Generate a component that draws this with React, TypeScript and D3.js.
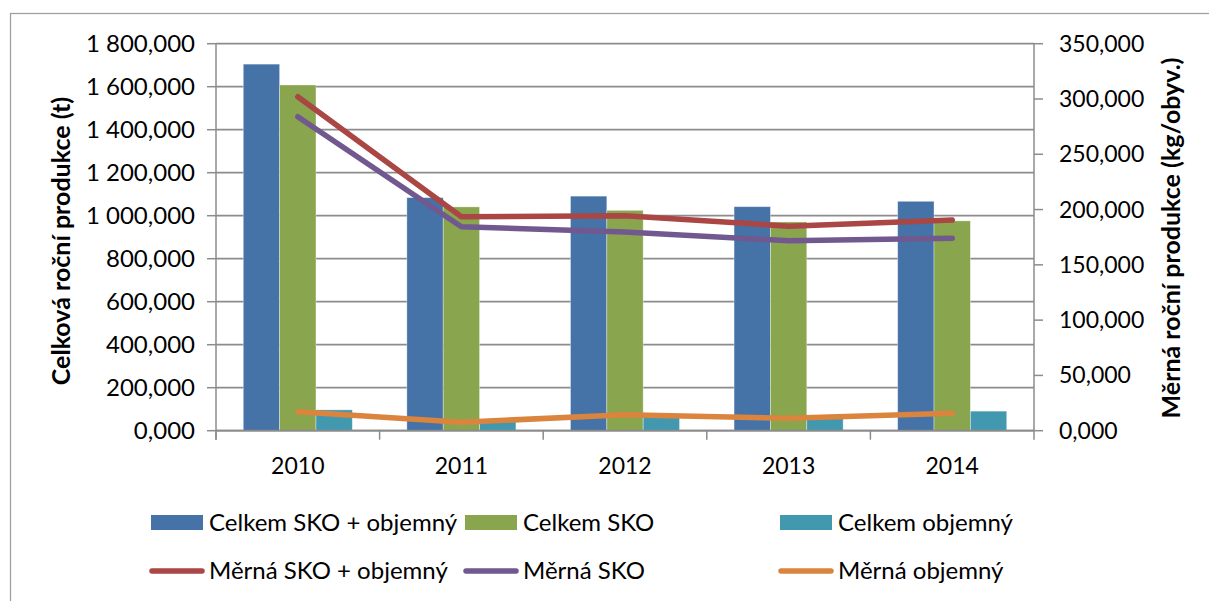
import React from "react";
import * as d3 from "d3";

const categories = ["2010", "2011", "2012", "2013", "2014"];
const celkemSkoObjemny = [1705, 1084, 1091, 1042, 1067];
const celkemSko = [1608, 1041, 1025, 971, 976];
const celkemObjemny = [97, 43, 66, 71, 91];
const mernaSkoObjemny = [302, 193.5, 194.5, 185, 190.5];
const mernaSko = [284, 184.5, 179.7, 171.8, 174];
const mernaObjemny = [17.2, 7.6, 14.5, 11.2, 15.7];
const leftTicks = [0, 200, 400, 600, 800, 1000, 1200, 1400, 1600, 1800];
const rightTicks = [0, 50, 100, 150, 200, 250, 300, 350];

const barSeries = [
  { name: "Celkem SKO + objemný", values: celkemSkoObjemny, color: "#4572A7" },
  { name: "Celkem SKO", values: celkemSko, color: "#89A54E" },
  { name: "Celkem objemný", values: celkemObjemny, color: "#4198AF" },
];
const lineSeries = [
  { name: "Měrná SKO + objemný", values: mernaSkoObjemny, color: "#AA4643" },
  { name: "Měrná SKO", values: mernaSko, color: "#71588F" },
  { name: "Měrná objemný", values: mernaObjemny, color: "#DB843D" },
];

const W = 1209;
const H = 601;
const FONT = "Lato, 'Open Sans', sans-serif";

function fmtLeft(v: number) {
  const s = d3.format(",.3f")(v);
  const [i, f] = s.split(".");
  return i.replace(/,/g, "\u00a0") + "," + f;
}
function fmtRight(v: number) {
  return d3.format(".3f")(v).replace(".", ",");
}

export default function App() {
  const x0 = 216, x1 = 1034, yTop = 43.7, yBot = 430.7;
  const x = d3.scaleBand<string>().domain(categories).range([x0, x1]).paddingInner(0).paddingOuter(0);
  const yL = d3.scaleLinear().domain([0, 1800]).range([yBot, yTop]);
  const yR = d3.scaleLinear().domain([0, 350]).range([yBot, yTop]);
  const bw = x.bandwidth() / 4.5;
  const groupOffset = (x.bandwidth() - 3 * bw) / 2;
  const line = (vals: number[]) =>
    d3.line<number>()
      .x((_, i) => (x(categories[i]) as number) + x.bandwidth() / 2)
      .y((v) => yR(v))(vals) as string;

  const gridColor = "#8C8C8C";
  const legendCols = [151, 465, 780];
  const legendRows = [522.5, 571];

  return (
    <svg width={W} height={H} style={{ position: "absolute", left: 0, top: 0, fontFamily: FONT }}>
      <rect x={0} y={0} width={W} height={H} fill="#fff" />
      <rect x={10.5} y={13.5} width={W + 20} height={H + 20} fill="none" stroke="#A0A0A0" strokeWidth={1.3} />
      {leftTicks.map((t) => (
        <line key={"g" + t} x1={x0} x2={x1} y1={yL(t)} y2={yL(t)} stroke={gridColor} strokeWidth={1.8} />
      ))}
      {barSeries.map((s, si) =>
        s.values.map((v, i) => {
          const bx = (x(categories[i]) as number) + groupOffset + si * bw;
          return (
            <rect key={s.name + i} x={bx} y={yL(v)} width={bw} height={yBot - yL(v)} fill={s.color}
              stroke="rgba(255,255,255,0.45)" strokeWidth={0.8} />
          );
        })
      )}
      <line x1={x0} x2={x0} y1={yTop} y2={yBot + 9} stroke={gridColor} strokeWidth={1.5} />
      <line x1={x1} x2={x1} y1={yTop} y2={yBot + 9} stroke={gridColor} strokeWidth={1.5} />
      <line x1={x0} x2={x1} y1={yBot} y2={yBot} stroke={gridColor} strokeWidth={1.8} />
      {leftTicks.map((t) => (
        <line key={"lt" + t} x1={x0 - 9} x2={x0} y1={yL(t)} y2={yL(t)} stroke={gridColor} strokeWidth={1.5} />
      ))}
      {rightTicks.map((t) => (
        <line key={"rt" + t} x1={x1} x2={x1 + 9} y1={yR(t)} y2={yR(t)} stroke={gridColor} strokeWidth={1.5} />
      ))}
      {categories.map((c) => (
        <line key={"ct" + c} x1={(x(c) as number)} x2={(x(c) as number)} y1={yBot} y2={yBot + 9} stroke={gridColor} strokeWidth={1.5} />
      ))}
      {lineSeries.map((s) => (
        <path key={s.name} d={line(s.values)} fill="none" stroke={s.color} strokeWidth={5.5} strokeLinecap="round" strokeLinejoin="round" />
      ))}
      {leftTicks.map((t) => (
        <text key={"ll" + t} x={195} y={yL(t)} dy="0.35em" textAnchor="end" fontSize={24} fill="#000">{fmtLeft(t)}</text>
      ))}
      {rightTicks.map((t) => (
        <text key={"rl" + t} x={1059} y={yR(t)} dy="0.35em" textAnchor="start" fontSize={23} fill="#000">{fmtRight(t)}</text>
      ))}
      {categories.map((c) => (
        <text key={"cl" + c} x={(x(c) as number) + x.bandwidth() / 2} y={474} textAnchor="middle" fontSize={23} fill="#000">{c}</text>
      ))}
      <text transform="translate(70,241) rotate(-90)" textAnchor="middle" fontSize={25} fontWeight="bold" fill="#000">Celková roční produkce (t)</text>
      <text transform="translate(1180,238) rotate(-90)" textAnchor="middle" fontSize={25} fontWeight="bold" fill="#000">Měrná roční produkce (kg/obyv.)</text>
      {barSeries.map((s, i) => (
        <g key={"lb" + s.name}>
          <rect x={legendCols[i]} y={legendRows[0] - 7.5} width={52} height={15} fill={s.color} />
          <text x={legendCols[i] + 58} y={legendRows[0]} dy="0.35em" fontSize={24} fill="#000">{s.name}</text>
        </g>
      ))}
      {lineSeries.map((s, i) => (
        <g key={"ll" + s.name}>
          <line x1={legendCols[i] + 1} x2={legendCols[i] + 51} y1={legendRows[1]} y2={legendRows[1]} stroke={s.color} strokeWidth={5.5} strokeLinecap="round" />
          <text x={legendCols[i] + 58} y={legendRows[1]} dy="0.35em" fontSize={24} fill="#000">{s.name}</text>
        </g>
      ))}
    </svg>
  );
}
